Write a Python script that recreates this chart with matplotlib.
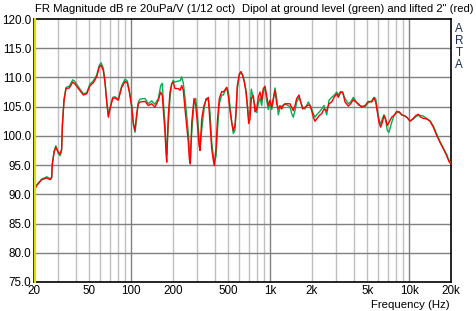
import matplotlib
matplotlib.use("Agg")
import matplotlib.pyplot as plt
from matplotlib.lines import Line2D

freq_hz = [20, 20.9, 22.7, 24.7, 26.1, 26.8, 27.1, 27.9, 28.7, 29.9, 30.8, 31.6, 32.0, 32.9, 34.0,
           35.9, 38.0, 39.4, 41.7, 45.3, 47.9, 50.6, 53.4, 56.5, 59.0, 60.7, 63.0, 64.8, 66.7, 68.5,
           70.4, 73.7, 76.5, 80.8, 85.5, 90.3, 93.8, 97.0,
           100.9, 103.6, 106.6, 109.6, 112.6, 115.8, 125.8, 132.8, 140.5, 148.4, 156.8, 163.1, 167.5,
           170.3, 175.2, 178.1, 180.2, 185.0, 190.3, 195.7, 201.0, 206.7, 218.4, 224.6, 231.0, 237.3,
           244.0, 250.9, 257.8, 262.1, 266.5, 272.7, 283.3, 291.4, 299.2, 307.8, 312.9, 321.8, 334.2,
           345.5, 358.9, 369.2, 379.7, 390.0, 396.5, 407.7, 416.6, 430.6, 448.1, 460.2, 486.8, 499.9,
           514.2, 528.8, 543, 558.6, 568.0, 580.3, 599.8, 616.9, 634.6, 651.7, 670.2, 684.8, 700.8,
           716.2, 731.8, 756.4, 778.0, 800.2, 821.7, 845.2, 869.3, 892.6, 918.1, 944.3, 969.7, 997.4,
           1026, 1053, 1083, 1114, 1144, 1177, 1211, 1243, 1279, 1350, 1389, 1429, 1467, 1509, 1552,
           1612, 1659, 1714, 1781, 1881, 1935, 1990, 2044, 2102, 2162, 2258, 2349, 2440, 2552, 2652,
           2772, 2900, 3012, 3093, 3218, 3326, 3455, 3649, 3796, 3964, 4145, 4307, 4556, 4812, 5082,
           5377, 5585, 5746, 5900, 6068, 6242, 6410, 6592, 6780, 6963, 7161, 7489, 7779, 8136, 8494,
           8838, 9335, 9696, 10140, 10606, 11202, 11636, 12106, 12638, 13372, 14122, 14917, 15780,
           16668, 17606, 18627, 19348, 20000]

red_db = [90.6, 91.5, 92.5, 92.8, 92.5, 92.8, 95.2, 97.2, 98.1, 97.2, 96.9, 97.7, 101.8, 106.1, 108.1,
          108.2, 109.2, 108.9, 108.1, 107.0, 107.2, 108.6, 109.1, 110.1, 111.8, 112.1, 111.2, 109.2, 105.8, 103.2,
          104.6, 106.4, 106.5, 106.1, 108.3, 109.3, 109.1, 107.5,
          105.0, 102.3, 100.9, 103.8, 105.5, 105.8, 105.9, 105.2, 105.5, 104.9, 106.1, 107.5, 106.9,
          104.6, 100.6, 97.2, 95.5, 103.5, 107.5, 108.9, 109.2, 108.1, 108.1, 107.8, 108.6, 107.8,
          104.6, 101.8, 98.9, 96.1, 95.2, 102.3, 106.4, 105.2, 102.3, 98.4, 97.5, 102.9, 105.2,
          106.1, 106.6, 102.3, 97.8, 95.8, 94.9, 97.8, 102.3, 106.4, 107.6, 107.5, 108.3, 106.9,
          104.3, 102.3, 100.9, 101.8, 104.1, 108.6, 110.6, 111.0, 110.3, 109.2, 107.5, 105.2, 102.1,
          102.9, 106.4, 106.9, 104.1, 104.6, 106.6, 107.5, 106.1, 108.1, 108.5, 106.9, 105.2, 106.1,
          104.9, 106.4, 107.8, 105.5, 104.6, 105.2, 104.6, 105.2, 105.5, 105.5, 105.5, 104.9, 104.3, 105.2, 106.4,
          107.0, 105.8, 104.6, 104.9, 105.3, 105.2, 104.3, 103.2, 102.5, 102.9, 103.5, 103.8, 104.6, 104.3, 105.5,
          105.8, 106.7, 107.2, 106.6, 107.5, 107.5, 105.8, 105.1, 105.5, 106.2, 105.8, 105.5, 104.9, 105.2, 105.9,
          105.8, 106.5, 105.8, 104.1, 102.3, 101.5, 102.3, 103.5, 102.9, 101.8, 102.3, 103.2, 103.5, 104.2, 104.1,
          103.6, 103.4, 103.1, 102.5, 102.9, 103.5, 103.7, 103.2, 103.0, 102.9, 102.5, 101.5, 100.1,
          98.9, 97.8, 96.6, 95.6, 95.2]

green_db = [90.6, 91.6, 92.6, 93.0, 92.7, 92.9, 95.2, 97.4, 98.3, 97.0, 96.6, 97.5, 101.8, 106.3, 108.3,
            108.5, 109.6, 109.3, 108.4, 107.2, 107.4, 108.9, 109.4, 110.4, 112.1, 112.5, 111.6, 109.5, 106.0, 103.6,
            104.8, 106.6, 106.7, 106.3, 108.6, 109.7, 109.4, 107.8,
            105.3, 102.0, 100.6, 103.2, 105.8, 106.3, 106.4, 105.5, 106.0, 105.4, 106.4, 108.6, 109.0,
            106.0, 102.0, 98.5, 96.8, 102.0, 106.5, 108.9, 109.5, 109.2, 109.4, 109.4, 110.1, 109.0,
            106.5, 103.5, 100.5, 97.5, 96.0, 100.5, 105.8, 106.4, 104.0, 99.5, 97.8, 101.0, 104.5,
            106.4, 106.3, 104.0, 99.0, 96.5, 95.5, 96.5, 100.5, 105.5, 107.0, 107.0, 108.3, 107.6,
            105.0, 102.5, 100.4, 101.0, 103.9, 108.0, 110.4, 110.9, 110.4, 109.4, 107.8, 105.5, 102.9,
            104.5, 108.0, 106.4, 105.2, 104.0, 105.5, 106.5, 105.2, 107.6, 108.2, 106.0, 104.5, 105.5,
            104.5, 106.0, 108.2, 106.5, 103.6, 104.8, 105.0, 105.3, 105.4, 105.2, 105.0, 103.8, 103.2, 104.3, 105.8,
            106.6, 105.8, 104.9, 104.6, 105.8, 105.3, 104.6, 103.8, 103.2, 103.6, 104.1, 104.6, 105.2, 103.6, 106.1,
            106.6, 107.0, 107.5, 107.0, 107.6, 107.4, 106.4, 105.5, 105.8, 106.6, 105.9, 105.3, 105.1, 105.0, 105.7,
            106.0, 106.6, 106.4, 104.5, 102.8, 102.0, 102.9, 103.6, 102.6, 100.9, 100.6, 102.3, 103.5, 104.0, 104.0,
            103.6, 103.4, 103.1, 102.6, 102.8, 103.3, 103.5, 103.5, 103.4, 103.0, 102.6, 101.7, 100.3,
            99.0, 97.9, 96.8, 95.8, 95.4]

x_ticks = [20, 50, 100, 200, 500, 1000, 2000, 5000, 10000, 20000]
x_tick_labels = ["20", "50", "100", "200", "500", "1k", "2k", "5k", "10k", "20k"]
y_ticks = [75, 80, 85, 90, 95, 100, 105, 110, 115, 120]

FONT = ["Liberation Sans", "DejaVu Sans"]
plt.rcParams["font.family"] = FONT

fig = plt.figure(figsize=(4.76, 3.11), dpi=100)
ax = fig.add_axes([34 / 476, 29 / 311, 417 / 476, 263 / 311])
ax.set_xscale("log")
ax.set_xlim(20, 20000)
ax.set_ylim(75, 120)

minor_grid = []
for dec in [10, 100, 1000]:
    for m in range(2, 10):
        v = m * dec
        if 20 <= v <= 20000:
            minor_grid.append(v)
for v in minor_grid:
    ax.axvline(v, color="#c0c0c0", lw=1.0, zorder=1)
for v in [100, 1000, 10000]:
    ax.axvline(v, color="#808080", lw=1.0, zorder=1.1)
for v in y_ticks[1:-1]:
    ax.axhline(v, color="#808080", lw=1.0, zorder=1.1)

ax.plot(freq_hz, green_db, color="#00b050", lw=1.0, zorder=3)
ax.plot(freq_hz, red_db, color="#ff0000", lw=1.0, zorder=4)

ax.xaxis.set_minor_locator(matplotlib.ticker.NullLocator())
ax.set_xticks(x_ticks)
ax.set_xticklabels(x_tick_labels)
ax.set_yticks(y_ticks)
ax.set_yticklabels([f"{v:.1f}" for v in y_ticks])
ax.tick_params(axis="both", length=0, labelsize=8.4, colors="black")
ax.tick_params(axis="x", pad=2.5)
ax.tick_params(axis="y", pad=2)

for s in ax.spines.values():
    s.set_color("black")
    s.set_linewidth(1.2)
ax.add_line(Line2D([0.003, 0.003], [0, 1], transform=ax.transAxes, color="#e0e000",
                   lw=1.6, zorder=5, clip_on=False))

fig.text(35 / 476, 1 - 9 / 311, "FR Magnitude dB re 20uPa/V (1/12 oct)", fontsize=8.2,
         ha="left", va="center")
fig.text(474 / 476, 1 - 9.5 / 311, 'Dipol at ground level (green) and lifted 2" (red)', fontsize=8.1,
         ha="right", va="center")
for i, ch in enumerate("ARTA"):
    fig.text(459 / 476, 1 - (29 + i * 12) / 311, ch, fontsize=8.4, ha="center", va="center",
             color="#1f3050")
fig.text(450 / 476, 1 - 305 / 311, "Frequency (Hz)", fontsize=8.2, ha="right", va="center")

fig.savefig("out.png", dpi=100, facecolor="white")
